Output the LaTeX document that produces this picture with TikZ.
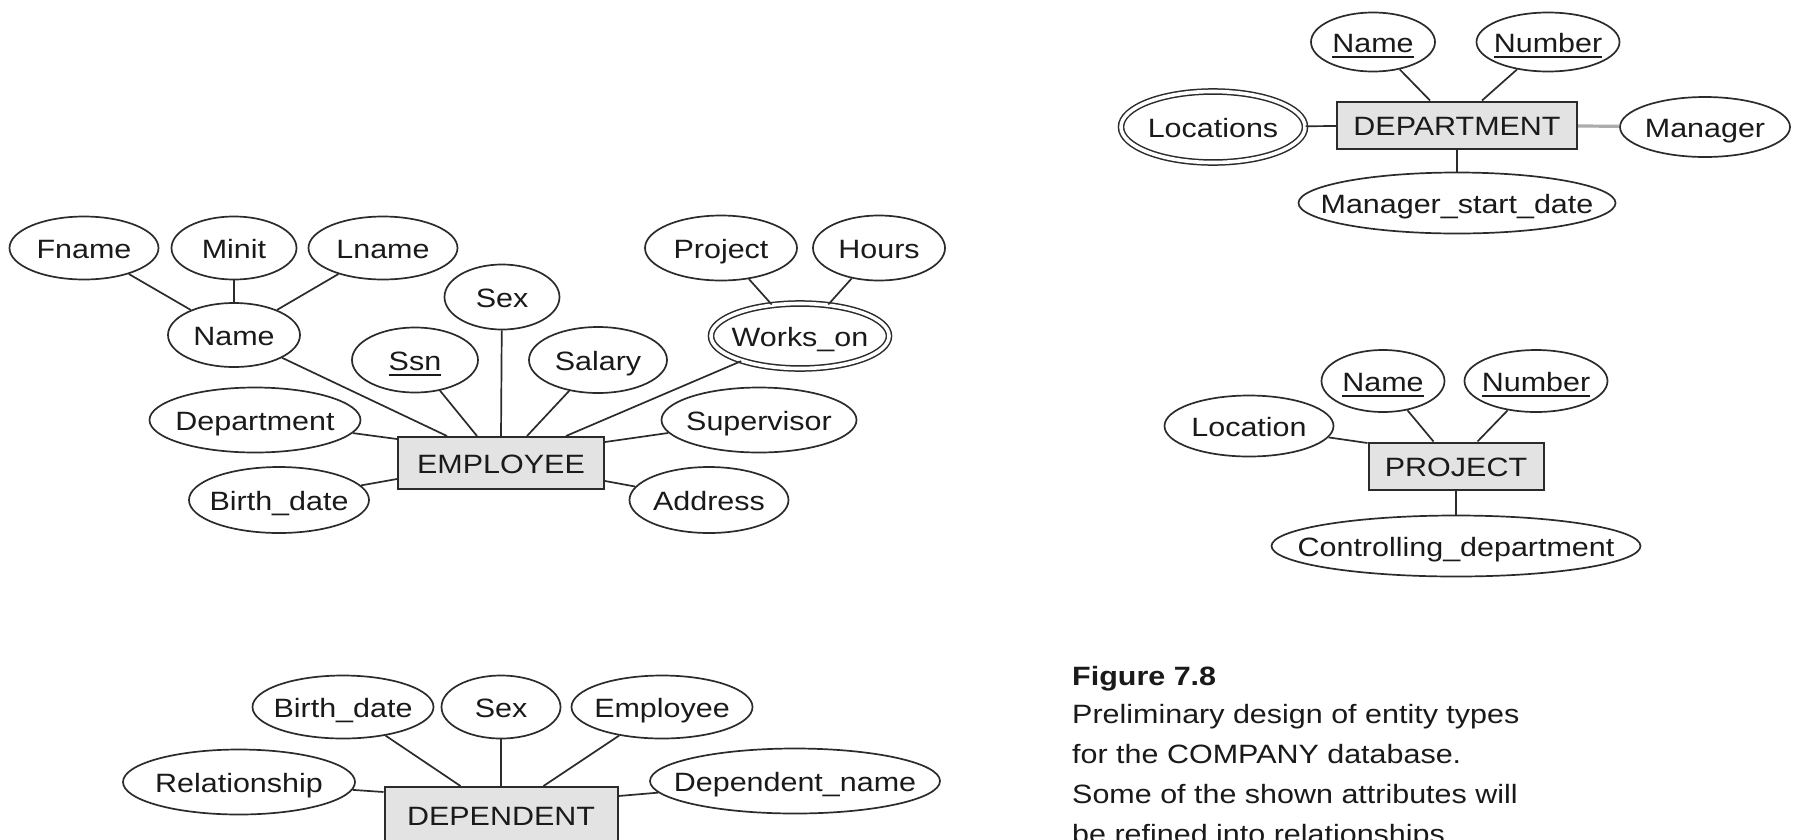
\documentclass[tikz,border=0pt]{standalone}
\usepackage{fontspec}
\setmainfont{Liberation Sans}[FakeStretch=1.15]
\usetikzlibrary{shapes.geometric,calc}

\definecolor{linec}{HTML}{2B2B2B}
\definecolor{txt}{HTML}{1A1A1A}
\definecolor{boxfill}{HTML}{E3E3E3}

% label with a fixed strut so that capitals sit centred in the shape
\newcommand\lbl[1]{\makebox[0pt]{\rule[-6pt]{0pt}{32pt}#1}}
% underlined key attribute
\newlength\keylen
\newcommand\keyattr[1]{\settowidth{\keylen}{#1}\rlap{\rule[-5.5pt]{\keylen}{1.8pt}}#1}

\tikzset{
  attr/.style={ellipse, draw=linec, line width=1.7pt, inner sep=0pt, text=txt,
               font=\fontsize{26.5}{32}\selectfont},
  multi/.style={attr, double, double distance=3.6pt, line width=1.5pt},
  entity/.style={rectangle, draw=linec, fill=boxfill, line width=2pt, inner sep=0pt,
                 text=txt, font=\fontsize{26.5}{32}\selectfont},
  conn/.style={draw=linec, line width=1.7pt},
  capline/.style={anchor=base west, inner sep=0pt, text=txt,
                  font=\fontsize{26.5}{32}\selectfont},
}

\begin{document}
\begin{tikzpicture}[x=1pt,y=-1pt]
\useasboundingbox (0,0) rectangle (1796,839);
\clip (0,0) rectangle (1796,839);
\fill[white] (0,0) rectangle (1796,839);

% ---------------- EMPLOYEE ----------------
\node[entity, minimum width=206, minimum height=52] (emp) at (501,463) {\lbl{EMPLOYEE}};
\node[attr, minimum width=149, minimum height=63] (fname) at (84,248) {\lbl{Fname}};
\node[attr, minimum width=125, minimum height=63] (minit) at (234,248) {\lbl{Minit}};
\node[attr, minimum width=149, minimum height=63] (lname) at (383,248) {\lbl{Lname}};
\node[attr, minimum width=132, minimum height=64] (ename) at (234,335) {\lbl{Name}};
\node[attr, minimum width=115, minimum height=65] (esex) at (502,297) {\lbl{Sex}};
\node[attr, minimum width=126, minimum height=65] (ssn) at (415,360) {\lbl{\keyattr{Ssn}}};
\node[attr, minimum width=138, minimum height=66] (salary) at (598,360) {\lbl{Salary}};
\node[attr, minimum width=152, minimum height=65] (wproj) at (721,248) {\lbl{Project}};
\node[attr, minimum width=132, minimum height=65] (hours) at (879,248) {\lbl{Hours}};
\node[multi, minimum width=178, minimum height=65] (workson) at (800,336) {\lbl{Works\_on}};
\node[attr, minimum width=211, minimum height=65] (edept) at (255,420) {\lbl{Department}};
\node[attr, minimum width=195, minimum height=65] (superv) at (759,420) {\lbl{Supervisor}};
\node[attr, minimum width=180, minimum height=66] (ebdate) at (279,500) {\lbl{Birth\_date}};
\node[attr, minimum width=159, minimum height=66] (address) at (709,500) {\lbl{Address}};

\draw[conn] (fname) -- (ename);
\draw[conn] (minit) -- (ename);
\draw[conn] (lname) -- (ename);
\draw[conn] (wproj) -- (workson);
\draw[conn] (hours) -- (workson);
\draw[conn] (ename) -- ($(emp.north west)+(50,0)$);
\draw[conn] (ssn) -- ($(emp.north west)+(80,0)$);
\draw[conn] (esex) -- (emp.north);
\draw[conn] (salary) -- ($(emp.north west)+(130,0)$);
\draw[conn] (workson) -- ($(emp.north west)+(169,0)$);
\draw[conn] (edept) -- ($(emp.north west)+(0,3)$);
\draw[conn] (ebdate) -- ($(emp.north west)+(0,43)$);
\draw[conn] (superv) -- ($(emp.north east)+(0,6)$);
\draw[conn] (address) -- ($(emp.north east)+(0,45)$);

% ---------------- DEPARTMENT ----------------
\node[entity, minimum width=240, minimum height=47] (deptbox) at (1457,125) {\lbl{DEPARTMENT}};
\node[attr, minimum width=124, minimum height=59] (dname) at (1373,42) {\lbl{\keyattr{Name}}};
\node[attr, minimum width=143, minimum height=59] (dnumber) at (1548,42) {\lbl{\keyattr{Number}}};
\node[multi, minimum width=184, minimum height=71] (locations) at (1213,127) {\lbl{Locations}};
\node[attr, minimum width=170, minimum height=60] (manager) at (1705,127) {\lbl{Manager}};
\node[attr, minimum width=317, minimum height=61] (mgrstart) at (1457,203) {\lbl{Manager\_start\_date}};

\draw[conn] (dname) -- ($(deptbox.north west)+(94,0)$);
\draw[conn] (dnumber) -- ($(deptbox.north west)+(146,0)$);
\draw[conn] (locations) -- (deptbox);
\draw[conn, draw=gray!65, line width=3.2pt] (deptbox) -- (manager);
\draw[conn] (deptbox) -- (mgrstart);

% ---------------- PROJECT ----------------
\node[entity, minimum width=175, minimum height=47] (projbox) at (1456,466) {\lbl{PROJECT}};
\node[attr, minimum width=123, minimum height=62] (pname) at (1383,381) {\lbl{\keyattr{Name}}};
\node[attr, minimum width=143, minimum height=62] (pnumber) at (1536,381) {\lbl{\keyattr{Number}}};
\node[attr, minimum width=169, minimum height=61] (location) at (1249,426) {\lbl{Location}};
\node[attr, minimum width=369, minimum height=61] (ctrl) at (1456,546) {\lbl{Controlling\_department}};

\draw[conn] (pname) -- ($(projbox.north west)+(66,0)$);
\draw[conn] (pnumber) -- ($(projbox.north west)+(110,0)$);
\draw[conn] (location) -- ($(projbox.north west)+(0,1.5)$);
\draw[conn] (projbox) -- (ctrl);

% ---------------- DEPENDENT ----------------
\node[entity, minimum width=233, minimum height=56] (depbox) at (501,815) {\lbl{DEPENDENT}};
\node[attr, minimum width=181, minimum height=63] (dbdate) at (343,707) {\lbl{Birth\_date}};
\node[attr, minimum width=119, minimum height=63] (dsex) at (501,707) {\lbl{Sex}};
\node[attr, minimum width=181, minimum height=63] (demp) at (662,707) {\lbl{Employee}};
\node[attr, minimum width=232, minimum height=65] (relship) at (239,782) {\lbl{Relationship}};
\node[attr, minimum width=290, minimum height=65] (depname) at (795,781) {\lbl{Dependent\_name}};

\draw[conn] (dbdate) -- ($(depbox.north west)+(77,0)$);
\draw[conn] (dsex) -- (depbox.north);
\draw[conn] (demp) -- ($(depbox.north west)+(160,0)$);
\draw[conn] (relship) -- ($(depbox.north west)+(0,6)$);
\draw[conn] (depname) -- ($(depbox.north east)+(0,10)$);

% ---------------- caption ----------------
\node[capline] (cap0) at (1072,685) {\bfseries Figure 7.8};
\node[capline] (cap1) at (1072,723) {Preliminary design of entity types};
\node[capline] (cap2) at (1072,763) {for the COMPANY database.};
\node[capline] (cap3) at (1072,803) {Some of the shown attributes will};
\node[capline] (cap4) at (1072,843) {be refined into relationships.};
\end{tikzpicture}
\end{document}
